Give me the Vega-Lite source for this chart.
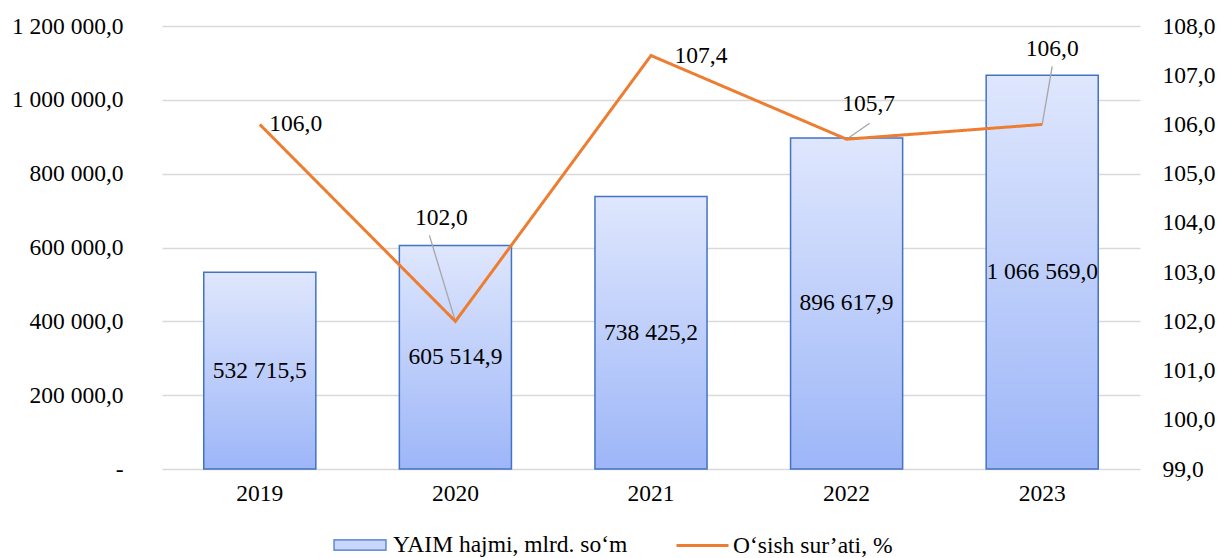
{
  "$schema": "https://vega.github.io/schema/vega-lite/v6.json",
  "width": 978,
  "height": 443,
  "autosize": {"type": "none"},
  "padding": {"left": 162, "top": 26, "right": 78, "bottom": 89},
  "background": "white",
  "config": {
    "font": "Liberation Serif",
    "view": {"stroke": null},
    "locale": {"number": {"decimal": ",", "thousands": " ", "grouping": [3], "currency": ["", ""]}},
    "axis": {"labelFont": "Liberation Serif", "labelFontSize": 23.5, "labelColor": "#000000", "title": null, "domain": false, "ticks": false},
    "legend": {"labelFont": "Liberation Serif", "labelFontSize": 23.5, "labelColor": "#000000", "labelLimit": 600}
  },
  "data": {
    "values": [
      {"year": "2019", "gdp": 532715.5, "growth": 106.0},
      {"year": "2020", "gdp": 605514.9, "growth": 102.0},
      {"year": "2021", "gdp": 738425.2, "growth": 107.4},
      {"year": "2022", "gdp": 896617.9, "growth": 105.7},
      {"year": "2023", "gdp": 1066569.0, "growth": 106.0}
    ]
  },
  "encoding": {
    "x": {
      "field": "year",
      "type": "nominal",
      "scale": {"paddingInner": 0, "paddingOuter": 0},
      "axis": {"labelAngle": 0, "labelPadding": 12, "grid": false}
    }
  },
  "layer": [
    {
      "mark": {
        "type": "bar",
        "width": {"band": 0.573},
        "fill": {
          "gradient": "linear", "x1": 0, "y1": 0, "x2": 0, "y2": 1,
          "stops": [{"offset": 0, "color": "#dfe7fd"}, {"offset": 1, "color": "#9db6f8"}]
        },
        "stroke": "#4472c4",
        "strokeWidth": 1.5
      },
      "encoding": {
        "y": {
          "field": "gdp",
          "type": "quantitative",
          "scale": {"domain": [0, 1200000], "nice": false},
          "axis": {
            "orient": "left",
            "values": [0, 200000, 400000, 600000, 800000, 1000000, 1200000],
            "format": ",.1f",
            "labelExpr": "datum.value === 0 ? '-   ' : datum.label",
            "labelPadding": 39,
            "grid": true,
            "gridColor": "#d9d9d9",
            "gridWidth": 1.3
          }
        },
        "color": {
          "datum": "YAIM hajmi, mlrd. so‘m",
          "type": "nominal",
          "scale": {"domain": ["YAIM hajmi, mlrd. so‘m"], "range": ["#c9d6fb"]},
          "legend": {
            "title": null,
            "orient": "none",
            "legendX": 171,
            "legendY": 492,
            "symbolType": "M-1,-0.2H1V0.2H-1Z",
            "symbolSize": 2704,
            "symbolStrokeColor": "#4472c4",
            "symbolStrokeWidth": 1.2,
            "labelOffset": 6
          }
        }
      }
    },
    {
      "mark": {"type": "text", "fontSize": 23.5, "align": "center", "baseline": "middle", "color": "#000000"},
      "encoding": {
        "y": {"field": "gdp", "type": "quantitative", "scale": {"domain": [0, 2400000], "nice": false}, "axis": null},
        "text": {"field": "gdp", "type": "quantitative", "format": ",.1f"}
      }
    },
    {
      "encoding": {
        "y": {
          "field": "growth",
          "type": "quantitative",
          "scale": {"domain": [99, 108], "nice": false, "zero": false},
          "axis": {
            "orient": "right",
            "values": [99, 100, 101, 102, 103, 104, 105, 106, 107, 108],
            "format": ".1f",
            "labelPadding": 22,
            "grid": false
          }
        }
      },
      "layer": [
        {
          "transform": [{"filter": "datum.year === '2020'"}],
          "mark": {"type": "rule", "color": "#a6a6a6", "strokeWidth": 1.3, "x2Offset": -26, "y2Offset": -86},
          "encoding": {"x2": {"field": "year"}, "y2": {"field": "growth"}}
        },
        {
          "transform": [{"filter": "datum.year === '2022'"}],
          "mark": {"type": "rule", "color": "#a6a6a6", "strokeWidth": 1.3, "x2Offset": 23, "y2Offset": -16},
          "encoding": {"x2": {"field": "year"}, "y2": {"field": "growth"}}
        },
        {
          "transform": [{"filter": "datum.year === '2023'"}],
          "mark": {"type": "rule", "color": "#a6a6a6", "strokeWidth": 1.3, "x2Offset": 10, "y2Offset": -58},
          "encoding": {"x2": {"field": "year"}, "y2": {"field": "growth"}}
        },
        {
          "mark": {"type": "line", "strokeWidth": 3, "color": "#ed7d31"},
          "encoding": {
            "strokeDash": {
              "datum": "O‘sish sur’ati, %",
              "type": "nominal",
              "scale": {"domain": ["O‘sish sur’ati, %"], "range": [[1, 0]]},
              "legend": {
                "title": null,
                "orient": "none",
                "legendX": 513,
                "legendY": 492,
                "symbolType": "stroke",
                "symbolSize": 2704,
                "symbolStrokeColor": "#ed7d31",
                "symbolStrokeWidth": 3,
                "labelOffset": 3
              }
            }
          }
        },
        {
          "transform": [{"filter": "datum.year === '2019'"}],
          "mark": {"type": "text", "fontSize": 23.5, "align": "center", "baseline": "middle", "color": "#000000", "dx": 36, "dy": 0},
          "encoding": {"text": {"field": "growth", "type": "quantitative", "format": ".1f"}}
        },
        {
          "transform": [{"filter": "datum.year === '2020'"}],
          "mark": {"type": "text", "fontSize": 23.5, "align": "center", "baseline": "middle", "color": "#000000", "dx": -14, "dy": -103},
          "encoding": {"text": {"field": "growth", "type": "quantitative", "format": ".1f"}}
        },
        {
          "transform": [{"filter": "datum.year === '2021'"}],
          "mark": {"type": "text", "fontSize": 23.5, "align": "center", "baseline": "middle", "color": "#000000", "dx": 50, "dy": 0},
          "encoding": {"text": {"field": "growth", "type": "quantitative", "format": ".1f"}}
        },
        {
          "transform": [{"filter": "datum.year === '2022'"}],
          "mark": {"type": "text", "fontSize": 23.5, "align": "center", "baseline": "middle", "color": "#000000", "dx": 22, "dy": -35},
          "encoding": {"text": {"field": "growth", "type": "quantitative", "format": ".1f"}}
        },
        {
          "transform": [{"filter": "datum.year === '2023'"}],
          "mark": {"type": "text", "fontSize": 23.5, "align": "center", "baseline": "middle", "color": "#000000", "dx": 10, "dy": -75},
          "encoding": {"text": {"field": "growth", "type": "quantitative", "format": ".1f"}}
        }
      ]
    }
  ],
  "resolve": {"scale": {"y": "independent"}, "axis": {"y": "independent"}}
}
